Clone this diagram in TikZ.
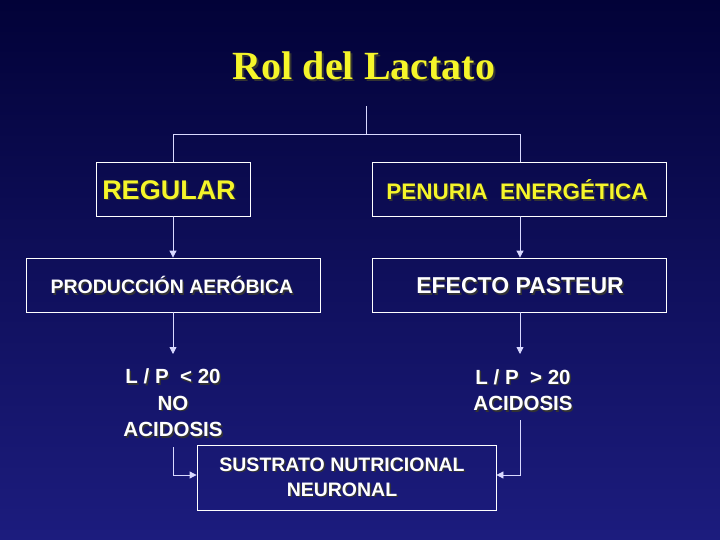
\documentclass[tikz,border=0pt]{standalone}
\usepackage{fontspec}
\setmainfont{Liberation Sans}
\newfontfamily\titlefont{Liberation Serif}
\usetikzlibrary{arrows.meta}
\definecolor{bgtop}{HTML}{020238}
\definecolor{bgbot}{HTML}{1C1C7E}
\definecolor{ttl}{HTML}{F5F52A}
\begin{document}
\begin{tikzpicture}[x=1pt,y=-1pt,
  box/.style={draw=white,line width=0.8pt,minimum height=54pt,inner sep=0pt},
  wtxt/.style={text=white,font=\bfseries,align=center},
  shd/.style={text=black!80,align=center},
  ln/.style={draw=white!85!blue,line width=0.8pt},
  arr/.style={ln,-{Triangle[width=7pt,length=7pt]}}]
\shade[top color=bgtop,bottom color=bgbot] (0,0) rectangle (720,540);
\useasboundingbox (0,0) rectangle (720,540);
\newcommand\TF{\titlefont\bfseries\fontsize{40}{46}\selectfont}
\newcommand\RF{\bfseries\fontsize{27}{30}\selectfont}
\newcommand\PF{\bfseries\fontsize{22.5}{26}\selectfont}
\newcommand\PRF{\bfseries\fontsize{19.5}{22}\selectfont}
\newcommand\EF{\bfseries\fontsize{23}{26}\selectfont}
\newcommand\LF{\bfseries\fontsize{20.5}{26.5}\selectfont}
\newcommand\SF{\bfseries\fontsize{19.5}{25}\selectfont}
\node[shd,font=\TF] at (366,68) {Rol del Lactato};
\node (title) [text=ttl,font=\TF] at (364,66) {Rol del Lactato};
\node (reg) [box,minimum width=154pt] at (173,189) {};
\node[shd,font=\RF] at (170.5,191.5) {REGULAR};
\node[text=ttl,font=\RF] at (169,190) {REGULAR};
\node (pen) [box,minimum width=294pt] at (519,189) {};
\node[shd,font=\PF] at (518.5,191.5) {PENURIA\ \ ENERGÉTICA};
\node[text=ttl,font=\PF] at (517,190) {PENURIA\ \ ENERGÉTICA};
\node (pro) [box,minimum width=294pt] at (173,285) {};
\node[shd,font=\PRF] at (173.5,286.5) {PRODUCCIÓN AERÓBICA};
\node[wtxt,font=\PRF] at (172,285) {PRODUCCIÓN AERÓBICA};
\node (efe) [box,minimum width=294pt] at (519,285) {};
\node[shd,font=\EF] at (521.5,287.5) {EFECTO PASTEUR};
\node[wtxt,font=\EF] at (520,286) {EFECTO PASTEUR};
\node[shd,font=\LF] at (174.5,404.5) {L / P\ \ < 20\\NO\\ACIDOSIS};
\node (lpl) [wtxt,font=\LF] at (173,403) {L / P\ \ < 20\\NO\\ACIDOSIS};
\node[shd,font=\LF] at (524.5,391.5) {L / P\ \ > 20\\ACIDOSIS};
\node (lpr) [wtxt,font=\LF] at (523,390) {L / P\ \ > 20\\ACIDOSIS};
\node (sus) [box,minimum width=299pt,minimum height=65pt] at (346.5,477.5) {};
\node[shd,font=\SF] at (343.5,478.5) {SUSTRATO NUTRICIONAL\\NEURONAL};
\node[wtxt,font=\SF] at (342,477) {SUSTRATO NUTRICIONAL\\NEURONAL};
\coordinate (top) at (366,106);
\coordinate (hl) at (173,134);
\coordinate (hr) at (520,134);
\draw[ln] (top) -- (366,134);
\draw[ln] (reg.north -| hl) -- (hl) -- (hr) -- (pen.north -| hr);
\draw[arr] (reg.south) -- (pro.north -| reg.south);
\draw[arr] (pen.south -| hr) -- (efe.north -| hr);
\coordinate (al) at (173,354);
\coordinate (ar) at (520,354);
\draw[arr] (pro.south -| al) -- (al);
\draw[arr] (efe.south -| ar) -- (ar);
\draw[arr] (173,447) -- (173,475) -- (sus.west |- 0,475);
\draw[arr] (520,420) -- (520,475) -- (sus.east |- 0,475);
\end{tikzpicture}
\end{document}
